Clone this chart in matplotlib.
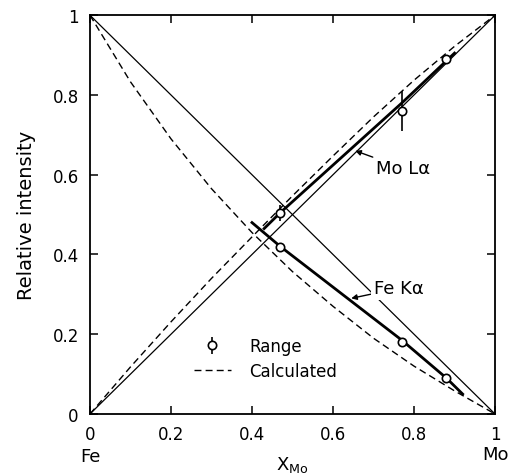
import matplotlib
matplotlib.use('Agg')
import matplotlib.pyplot as plt
from matplotlib.lines import Line2D

# Valeurs
mo_x = [0.47, 0.77, 0.88]
mo_y = [0.505, 0.76, 0.89]
mo_err = [0.02, 0.05, 0.01]

fe_x = [0.47, 0.77, 0.88]
fe_y = [0.42, 0.18, 0.09]

# traits épais (mesures)
mo_line_x = [0.43, 0.47, 0.77, 0.90]
mo_line_y = [0.465, 0.505, 0.78, 0.905]
fe_line_x = [0.40, 0.47, 0.77, 0.88, 0.92]
fe_line_y = [0.48, 0.42, 0.185, 0.09, 0.05]

# courbes calculées
calc_x = [0, 0.1, 0.2, 0.3, 0.4, 0.5, 0.6, 0.7, 0.8, 0.9, 1.0]
calc_mo = [0, 0.118, 0.231, 0.34, 0.444, 0.547, 0.647, 0.745, 0.837, 0.922, 1.0]
calc_fe = [1.0, 0.833, 0.69, 0.565, 0.455, 0.357, 0.27, 0.19, 0.12, 0.058, 0.0]

# droites idéales
ideal_x = [0, 1]
ideal_mo = [0, 1]
ideal_fe = [1, 0]

ticks = [0, 0.2, 0.4, 0.6, 0.8, 1]
tick_labels = ['0', '0.2', '0.4', '0.6', '0.8', '1']

fig = plt.figure(figsize=(5.2, 4.77), dpi=100)
ax = fig.add_axes([0.173, 0.130, 0.779, 0.836])

ax.plot(ideal_x, ideal_mo, color='black', lw=0.9)
ax.plot(ideal_x, ideal_fe, color='black', lw=0.9)
ax.plot(calc_x, calc_mo, color='black', lw=1.0, dashes=(5, 3))
ax.plot(calc_x, calc_fe, color='black', lw=1.0, dashes=(5, 3))
ax.plot(mo_line_x, mo_line_y, color='black', lw=2.0)
ax.plot(fe_line_x, fe_line_y, color='black', lw=2.0)

ax.errorbar(mo_x, mo_y, yerr=mo_err, fmt='o', color='black', ms=6,
            mfc='white', mec='black', mew=1.2, elinewidth=1.2, capsize=0, zorder=5)
ax.plot(fe_x, fe_y, 'o', ms=6, mfc='white', mec='black', mew=1.2, zorder=5)

ax.annotate('Mo L\u03b1', xy=(0.655, 0.66), xytext=(0.705, 0.617),
            fontsize=13, va='center', ha='left',
            arrowprops=dict(arrowstyle='-|>', color='black', lw=1, mutation_scale=8,
                            shrinkA=0, shrinkB=0))
ax.annotate('Fe K\u03b1', xy=(0.645, 0.29), xytext=(0.70, 0.315),
            fontsize=13, va='center', ha='left',
            bbox=dict(boxstyle='square,pad=0.15', fc='white', ec='none'),
            arrowprops=dict(arrowstyle='-|>', color='black', lw=1, mutation_scale=8,
                            shrinkA=0, shrinkB=0))

# légende
h_range = ax.errorbar([], [], yerr=[], fmt='o', color='black', ms=6, mfc='white',
                      mec='black', mew=1.2, elinewidth=1.2, capsize=0)
h_calc = Line2D([], [], color='black', lw=1.0, dashes=(5, 3))
ax.legend([h_range, h_calc], ['Range', 'Calculated'], loc='upper left',
          bbox_to_anchor=(0.22, 0.23), frameon=False, fontsize=12,
          handlelength=2.2, handletextpad=1.1, numpoints=1, labelspacing=0.4)

ax.set_xlim(0, 1)
ax.set_ylim(0, 1)
ax.set_xticks(ticks)
ax.set_xticklabels(tick_labels)
ax.set_yticks(ticks)
ax.set_yticklabels(tick_labels)
ax.tick_params(direction='in', length=6, width=1.1, labelsize=12,
               top=True, right=True, pad=8)
for s in ax.spines.values():
    s.set_linewidth(1.3)

ax.set_ylabel('Relative intensity', fontsize=14, labelpad=12)
ax.text(0.0, -0.105, 'Fe', transform=ax.transAxes, ha='center', va='center', fontsize=13)
ax.text(1.0, -0.10, 'Mo', transform=ax.transAxes, ha='center', va='center', fontsize=13)
ax.text(0.50, -0.125, r'$\mathregular{X_{Mo}}$', transform=ax.transAxes,
        ha='center', va='center', fontsize=13)

fig.savefig('out.png', dpi=100)
